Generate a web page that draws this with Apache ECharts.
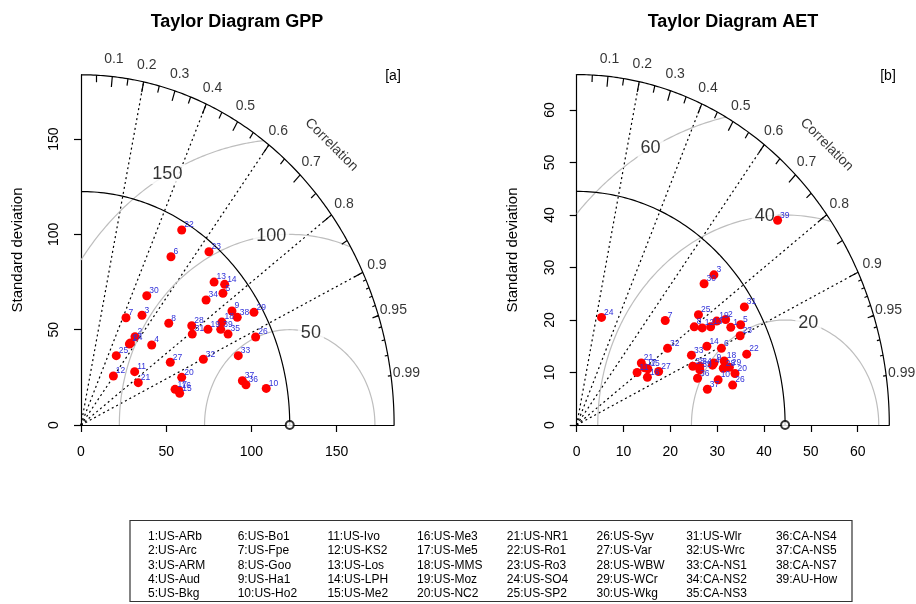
<!DOCTYPE html>
<html>
<head>
<meta charset="utf-8">
<script src="https://cdn.jsdelivr.net/npm/echarts@6/dist/echarts.min.js"></script>
<style>
html,body{margin:0;padding:0;background:#fff}
#chart{width:916px;height:604px}
</style>
</head>
<body>
<div id="chart"></div>
<script>
// site names, numbered 1..39 in the legend
var sites = ['US-ARb','US-Arc','US-ARM','US-Aud','US-Bkg','US-Bo1','US-Fpe','US-Goo','US-Ha1','US-Ho2',
  'US-Ivo','US-KS2','US-Los','US-LPH','US-Me2','US-Me3','US-Me5','US-MMS','US-Moz','US-NC2',
  'US-NR1','US-Ro1','US-Ro3','US-SO4','US-SP2','US-Syv','US-Var','US-WBW','US-WCr','US-Wkg',
  'US-Wlr','US-Wrc','CA-NS1','CA-NS2','CA-NS3','CA-NS4','CA-NS5','CA-NS7','AU-How'];

// GPP model points (x = sd*cor, y = sd*sqrt(1-cor^2)), site order as above
var gppX = [28.4, 31.7, 35.8, 41.5, 83.3, 52.8, 26.4, 51.5, 88.6, 108.7, 31.5, 19.0, 78.1, 84.3, 57.9, 57.5, 55.2, 82.7, 74.5, 59.1,
  33.6, 59.1, 75.1, 29.0, 20.7, 102.5, 52.4, 65.0, 101.5, 38.6, 65.3, 71.8, 92.3, 73.4, 86.3, 96.8, 94.7, 91.7, 82.0];
var gppY = [42.5, 46.3, 57.6, 42.0, 69.1, 88.3, 56.3, 53.4, 59.8, 19.2, 28.0, 25.7, 75.0, 73.8, 16.6, 18.0, 18.7, 54.0, 50.2, 25.0,
  22.2, 102.3, 90.9, 43.0, 36.4, 46.2, 32.9, 52.1, 59.1, 67.8, 47.7, 34.5, 36.4, 65.6, 47.7, 21.1, 23.2, 56.5, 50.2];
var gppRefSd = 122.5;
var gppGamma = [50, 100, 150];
var gppTicks = [0, 50, 100, 150];

// AET model points
var aetX = [32.9, 31.8, 29.3, 29.0, 35.0, 30.9, 18.9, 25.1, 29.3, 30.2, 12.9, 26.8, 28.6, 27.8, 15.2, 15.1, 14.5, 31.5, 29.9, 33.8,
  13.8, 36.3, 34.9, 5.3, 26.0, 33.3, 17.5, 31.3, 32.6, 27.2, 35.8, 19.4, 24.5, 26.3, 26.3, 25.8, 27.9, 24.8, 42.9];
var aetY = [18.6, 20.1, 28.6, 11.4, 19.1, 14.6, 19.9, 18.7, 11.8, 8.6, 10.0, 18.5, 18.7, 15.0, 10.7, 9.1, 10.9, 12.2, 19.8, 9.8,
  11.8, 13.5, 17.0, 20.5, 21.0, 7.6, 10.2, 10.8, 11.0, 26.9, 22.5, 14.6, 13.3, 11.2, 10.5, 8.9, 6.8, 11.2, 39.0];
var aetRefSd = 44.5;
var aetGamma = [20, 40, 60];
var aetTicks = [0, 10, 20, 30, 40, 50, 60];

var corLabels = [0.1, 0.2, 0.3, 0.4, 0.5, 0.6, 0.7, 0.8, 0.9, 0.95, 0.99];
var corLines = [0.2, 0.4, 0.6, 0.8, 0.9];
var gammaLabelAngles = [1.32, 1.68, 2.07];

var FONT = '"Liberation Sans", Arial, sans-serif';

function arc(cx, r, a0, a1) {
  var pts = [];
  for (var i = 0; i <= 200; i++) {
    var a = a0 + (a1 - a0) * i / 200;
    pts.push([cx + r * Math.cos(a), r * Math.sin(a)]);
  }
  return pts;
}

function panel(k, xs, ys, refSd, gammas) {
  var maxsd = 1.5 * refSd;
  var ax = {xAxisIndex: k, yAxisIndex: k, silent: true, animation: false};
  var out = [];
  function add(o) { out.push(Object.assign({}, ax, o)); }

  // outer correlation arc and reference sd arc
  add({type: 'line', data: arc(0, maxsd, 0, Math.PI / 2), showSymbol: false, clip: false,
    lineStyle: {color: '#000', width: 1.2}, z: 3});
  add({type: 'line', data: arc(0, refSd, 0, Math.PI / 2), showSymbol: false, clip: false,
    lineStyle: {color: '#000', width: 1.2}, z: 3});

  // centred RMS difference arcs
  gammas.forEach(function (g) {
    var c1 = (maxsd * maxsd - refSd * refSd - g * g) / (2 * refSd * g);
    var a0 = c1 >= 1 ? 0 : Math.acos(c1);
    var c2 = -refSd / g;
    var a1 = c2 <= -1 ? Math.PI : Math.acos(c2);
    add({type: 'line', data: arc(refSd, g, a0, a1), showSymbol: false, clip: false,
      lineStyle: {color: '#bebebe', width: 1.2}, z: 2});
  });

  // correlation rays
  add({type: 'lines', coordinateSystem: 'cartesian2d', clip: false, z: 2,
    data: corLines.map(function (c) {
      return {coords: [[0, 0], [c * maxsd, Math.sqrt(1 - c * c) * maxsd]]};
    }),
    lineStyle: {color: '#000', width: 1.2, type: [2, 3], opacity: 1}});

  // ticks on the outer arc
  var tk = [];
  function tick(c, f) {
    var s = Math.sqrt(1 - c * c);
    tk.push({coords: [[c * maxsd, s * maxsd], [c * f * maxsd, s * f * maxsd]]});
  }
  for (var i = 1; i <= 9; i++) tick(i / 10, 0.97);
  for (var j = 0; j < 10; j++) tick(0.05 + j / 10, 0.98);
  for (var m = 91; m <= 99; m++) tick(m / 100, 0.99);
  add({type: 'lines', coordinateSystem: 'cartesian2d', clip: false, z: 3, data: tk,
    lineStyle: {color: '#000', width: 1.2, opacity: 1}});

  // correlation labels
  add({type: 'scatter', symbolSize: 0, clip: false, z: 5,
    data: corLabels.map(function (c) {
      return {value: [c * 1.05 * maxsd, Math.sqrt(1 - c * c) * 1.05 * maxsd], name: String(c)};
    }),
    label: {show: true, position: 'inside', formatter: '{b}', fontSize: 14, color: '#000', fontFamily: FONT}});
  add({type: 'scatter', symbolSize: 0, clip: false, z: 5,
    data: [{value: [0.8 * maxsd, 0.8 * maxsd], name: 'Correlation'}],
    label: {show: true, position: 'inside', formatter: '{b}', rotate: -45, fontSize: 14, color: '#000', fontFamily: FONT}});

  // gamma labels on white boxes
  add({type: 'scatter', symbolSize: 0, clip: false, z: 6,
    data: gammas.map(function (g, i) {
      var a = gammaLabelAngles[i];
      return {value: [refSd + g * Math.cos(a), g * Math.sin(a)], name: String(g)};
    }),
    label: {show: true, position: 'inside', formatter: '{b}', fontSize: 18, color: '#000', fontFamily: FONT,
      backgroundColor: '#fff', padding: [1, 3]}});

  // reference point
  add({type: 'scatter', data: [[refSd, 0]], symbol: 'emptyCircle', symbolSize: 8, clip: false, z: 7,
    itemStyle: {color: '#000', borderColor: '#000', borderWidth: 1}});

  // model points
  add({type: 'scatter', symbolSize: 9, clip: false, z: 8,
    data: xs.map(function (x, i) { return [x, ys[i], i + 1]; }),
    itemStyle: {color: '#ff0000', opacity: 1},
    label: {show: true, position: 'right', distance: 0, offset: [-2, -5],
      formatter: function (p) { return p.value[2]; },
      fontSize: 8.5, color: '#3030d8', fontFamily: FONT}});
  return out;
}

function xAxisOf(k, maxsd, ticks) {
  return {gridIndex: k, type: 'value', min: 0, max: maxsd,
    axisLine: {show: true, onZero: false, lineStyle: {color: '#000', width: 1.2}},
    axisTick: {show: true, length: 7, customValues: ticks, lineStyle: {color: '#000', width: 1.2}},
    axisLabel: {customValues: ticks, fontSize: 14, color: '#000', margin: 20, fontFamily: FONT},
    splitLine: {show: false}};
}
function yAxisOf(k, maxsd, ticks) {
  var a = xAxisOf(k, maxsd, ticks);
  a.axisLabel.rotate = 90;
  a.axisLabel.margin = 20;
  return a;
}

var chart = echarts.init(document.getElementById('chart'));

var graphics = [
  {type: 'text', x: 237, y: 22, style: {text: 'Taylor Diagram GPP', font: 'bold 18px ' + FONT, fill: '#000', textAlign: 'center', textVerticalAlign: 'middle'}},
  {type: 'text', x: 733, y: 22, style: {text: 'Taylor Diagram AET', font: 'bold 18px ' + FONT, fill: '#000', textAlign: 'center', textVerticalAlign: 'middle'}},
  {type: 'text', x: 393, y: 76, style: {text: '[a]', font: '14px ' + FONT, fill: '#000', textAlign: 'center', textVerticalAlign: 'middle'}},
  {type: 'text', x: 888, y: 76, style: {text: '[b]', font: '14px ' + FONT, fill: '#000', textAlign: 'center', textVerticalAlign: 'middle'}},
  {type: 'text', x: 18, y: 250, rotation: Math.PI / 2, style: {text: 'Standard deviation', font: '15px ' + FONT, fill: '#000', textAlign: 'center', textVerticalAlign: 'middle'}},
  {type: 'text', x: 513, y: 250, rotation: Math.PI / 2, style: {text: 'Standard deviation', font: '15px ' + FONT, fill: '#000', textAlign: 'center', textVerticalAlign: 'middle'}},
  {type: 'rect', shape: {x: 130, y: 520.5, width: 722, height: 81}, style: {fill: 'none', stroke: '#333', lineWidth: 1.2}}
];
sites.forEach(function (s, i) {
  var c = Math.floor(i / 5), r = i % 5;
  graphics.push({type: 'text', x: 148 + c * 89.7, y: 536.7 + r * 14.3,
    style: {text: (i + 1) + ':' + s, font: '12px ' + FONT, fill: '#000', textAlign: 'left', textVerticalAlign: 'middle'}});
});

chart.setOption({
  animation: false,
  backgroundColor: '#fff',
  grid: [
    {left: 81, top: 74.8, width: 313.1, height: 350.2},
    {left: 576.7, top: 74.6, width: 312.6, height: 350.4}
  ],
  xAxis: [xAxisOf(0, 1.5 * gppRefSd, gppTicks), xAxisOf(1, 1.5 * aetRefSd, aetTicks)],
  yAxis: [yAxisOf(0, 1.5 * gppRefSd, gppTicks), yAxisOf(1, 1.5 * aetRefSd, aetTicks)],
  series: panel(0, gppX, gppY, gppRefSd, gppGamma).concat(panel(1, aetX, aetY, aetRefSd, aetGamma)),
  graphic: graphics
});
</script>
</body>
</html>
